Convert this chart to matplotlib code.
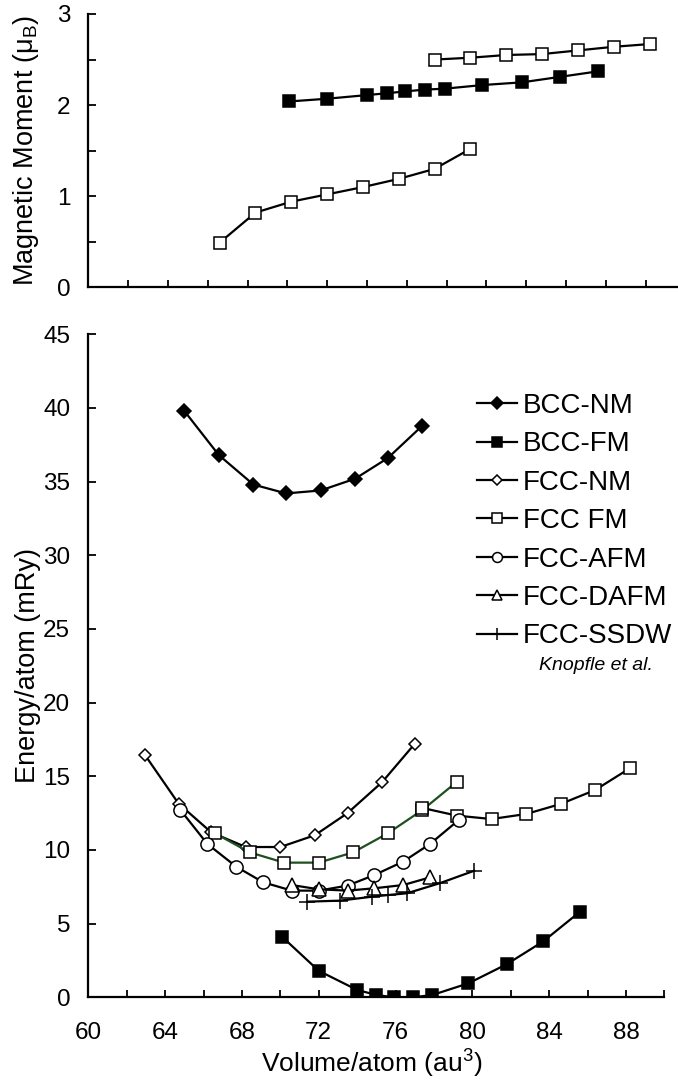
import numpy as np
from matplotlib import pyplot as plt
from matplotlib.ticker import MultipleLocator, NullFormatter

plt.rcParams['font.family'] = ['Liberation Sans', 'DejaVu Sans']
plt.rcParams['mathtext.default'] = 'regular'

####### data #######
# magnetic moments (top panel)
mm_fcc_low_v = [66.6, 68.4, 70.2, 72.0, 73.8, 75.6, 77.4, 79.2]
mm_fcc_low = [0.49, 0.82, 0.94, 1.02, 1.10, 1.19, 1.30, 1.52]
mm_bcc_v = [70.1, 72.0, 74.0, 75.0, 75.9, 76.9, 77.9, 79.8, 81.8, 83.7, 85.6]
mm_bcc = [2.04, 2.07, 2.11, 2.13, 2.15, 2.17, 2.18, 2.22, 2.25, 2.31, 2.37]
mm_fcc_high_v = [77.4, 79.2, 81.0, 82.8, 84.6, 86.4, 88.2]
mm_fcc_high = [2.50, 2.52, 2.55, 2.56, 2.60, 2.64, 2.67]

# energies (bottom panel)
bcc_nm_v = [65.0, 66.8, 68.6, 70.3, 72.1, 73.9, 75.6, 77.4]
bcc_nm_e = [39.8, 36.8, 34.8, 34.2, 34.4, 35.2, 36.6, 38.8]
bcc_fm_v = [70.1, 72.0, 74.0, 75.0, 75.9, 76.9, 77.9, 79.8, 81.8, 83.7, 85.6]
bcc_fm_e = [4.1, 1.8, 0.5, 0.16, 0.0, 0.0, 0.15, 0.95, 2.25, 3.8, 5.8]
fcc_nm_v = [62.95, 64.7, 66.4, 68.2, 70.0, 71.8, 73.5, 75.3, 77.0]
fcc_nm_e = [16.45, 13.15, 11.2, 10.2, 10.2, 11.0, 12.5, 14.6, 17.2]
fcc_fm_low_v = [66.6, 68.4, 70.2, 72.0, 73.8, 75.6, 77.4, 79.2]
fcc_fm_low_e = [11.13, 9.84, 9.14, 9.14, 9.84, 11.13, 12.71, 14.63]
fcc_fm_high_v = [77.4, 79.2, 81.0, 82.8, 84.6, 86.4, 88.2]
fcc_fm_high_e = [12.85, 12.33, 12.10, 12.44, 13.12, 14.07, 15.54]
fcc_afm_v = [64.8, 66.2, 67.7, 69.1, 70.6, 72.0, 73.5, 74.9, 76.4, 77.8, 79.3]
fcc_afm_e = [12.71, 10.41, 8.87, 7.81, 7.24, 7.24, 7.58, 8.30, 9.21, 10.41, 12.04]
fcc_dafm_v = [70.6, 72.0, 73.5, 74.9, 76.4, 77.8]
fcc_dafm_e = [7.62, 7.33, 7.24, 7.40, 7.62, 8.14]
fcc_ssdw_v = [71.4, 73.1, 74.8, 75.6, 76.6, 78.3, 80.1]
fcc_ssdw_e = [6.49, 6.56, 6.83, 6.94, 7.06, 7.74, 8.59]

green = '#1f4f1f'
lw = 1.6
mew = 1.1
sq = 9

fig = plt.figure(figsize=(6.78, 10.84), dpi=100)
ax1 = fig.add_axes([88.3/678, 1-287.3/1084, (678-88.3)/678, 273.3/1084])
ax2 = fig.add_axes([88.3/678, 1-997.3/1084, 576/678, 663/1084])

def style(ax):
    for s in ['top', 'right']:
        ax.spines[s].set_visible(False)
    for s in ['left', 'bottom']:
        ax.spines[s].set_linewidth(1.6)
    ax.tick_params(which='both', direction='in', labelsize=17.5, width=1.3)
    ax.tick_params(axis='y', which='both', length=6, pad=13)
    ax.tick_params(axis='x', which='both', length=5, pad=18)

###### top panel
ax1.plot(mm_fcc_low_v, mm_fcc_low, 'k-', lw=lw, marker='s', ms=sq, mfc='white', mec='k', mew=mew)
ax1.plot(mm_bcc_v, mm_bcc, 'k-', lw=lw, marker='s', ms=sq, mfc='k', mec='k', mew=mew)
ax1.plot(mm_fcc_high_v, mm_fcc_high, 'k-', lw=lw, marker='s', ms=sq, mfc='white', mec='k', mew=mew)
ax1.set_xlim(60, 89.63)
ax1.set_ylim(0, 3)
ax1.xaxis.set_major_locator(MultipleLocator(2))
ax1.xaxis.set_major_formatter(NullFormatter())
ax1.yaxis.set_major_locator(MultipleLocator(1))
ax1.yaxis.set_minor_locator(MultipleLocator(0.5))
style(ax1)
ax1.set_ylabel('Magnetic Moment (μ$_B$)', fontsize=19.5)
ax1.yaxis.set_label_coords(-0.08, 0.5)

###### bottom panel
ax2.plot(bcc_nm_v, bcc_nm_e, 'k-', lw=lw, marker='D', ms=7.5, mfc='k', mec='k', mew=mew, label='BCC-NM')
ax2.plot(bcc_fm_v, bcc_fm_e, 'k-', lw=lw, marker='s', ms=sq, mfc='k', mec='k', mew=mew, label='BCC-FM')
ax2.plot(fcc_nm_v, fcc_nm_e, 'k-', lw=lw, marker='D', ms=6.5, mfc='white', mec='k', mew=mew, label='FCC-NM')
ax2.plot(fcc_fm_low_v, fcc_fm_low_e, '-', color=green, lw=lw, marker='s', ms=sq, mfc='white', mec='k', mew=mew)
ax2.plot(fcc_fm_high_v, fcc_fm_high_e, 'k-', lw=lw, marker='s', ms=sq, mfc='white', mec='k', mew=mew, label='FCC FM')
ax2.plot(fcc_afm_v, fcc_afm_e, 'k-', lw=lw, marker='o', ms=9.5, mfc='white', mec='k', mew=mew, label='FCC-AFM')
ax2.plot(fcc_dafm_v, fcc_dafm_e, 'k-', lw=lw, marker='^', ms=10, mfc='white', mec='k', mew=mew, label='FCC-DAFM')
ax2.plot(fcc_ssdw_v, fcc_ssdw_e, 'k-', lw=lw, marker='+', ms=12, mec='k', mew=1.1, label='FCC-SSDW')
ax2.set_xlim(60, 90)
ax2.set_ylim(0, 45)
ax2.xaxis.set_major_locator(MultipleLocator(4))
ax2.xaxis.set_minor_locator(MultipleLocator(2))
ax2.yaxis.set_major_locator(MultipleLocator(5))
style(ax2)
ax2.set_ylabel('Energy/atom (mRy)', fontsize=19.5)
ax2.yaxis.set_label_coords(-0.082, 0.5)
ax2.set_xlabel('Volume/atom (au$^3$)', fontsize=19)
ax2.xaxis.set_label_coords(0.492, -0.076)

ax2.legend(loc='upper left', bbox_to_anchor=(0.674, 0.9115), frameon=False, fontsize=20,
           handlelength=1.44, handletextpad=0.23, labelspacing=0.446, borderpad=0,
           borderaxespad=0, markerscale=0.75)
ax2.text(86.43, 22.5, 'Knopfle et al.', fontsize=14, style='italic', ha='center', va='center')

fig.savefig('out.png', dpi=100)
